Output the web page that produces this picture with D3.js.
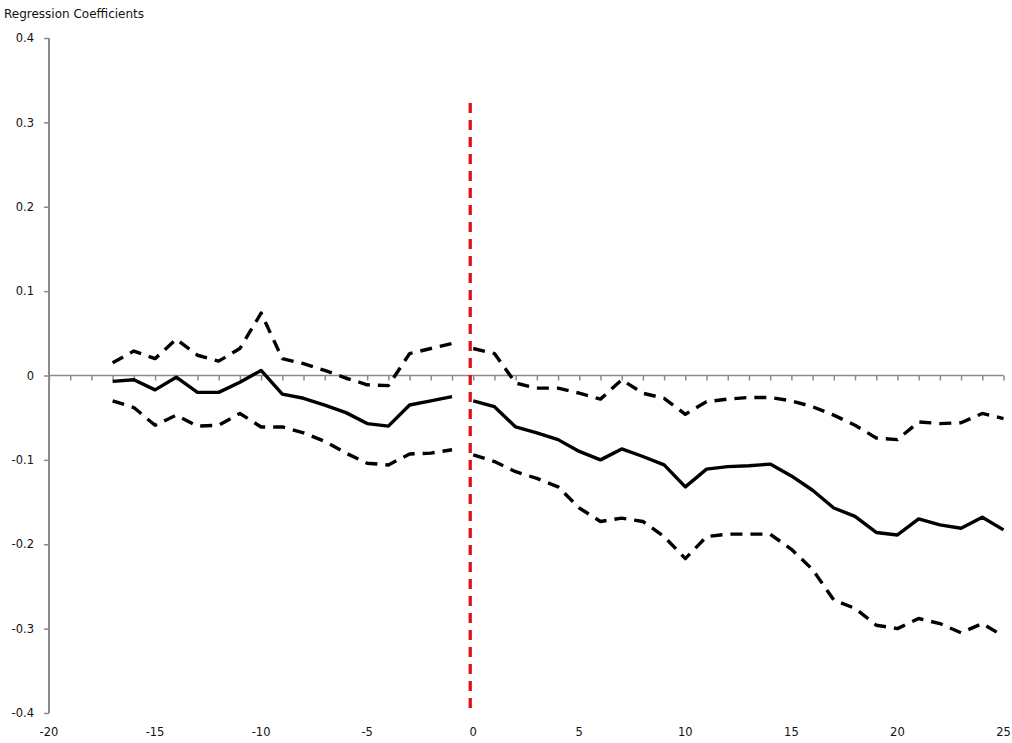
<!DOCTYPE html>
<html>
<head>
<meta charset="utf-8">
<script src="https://cdn.jsdelivr.net/npm/d3@7/dist/d3.min.js"></script>
<style>
  html, body { margin: 0; padding: 0; background: #fff; }
  svg { display: block; }
  text { font-family: "DejaVu Sans", sans-serif; fill: #111; }
</style>
</head>
<body>
<svg id="chart" width="1012" height="743"></svg>
<script>
// ---- data ----
const eventTime = [-17,-16,-15,-14,-13,-12,-11,-10,-9,-8,-7,-6,-5,-4,-3,-2,-1,
                   0,1,2,3,4,5,6,7,8,9,10,11,12,13,14,15,16,17,18,19,20,21,22,23,24,25];
const coef = [-0.007,-0.005,-0.017,-0.002,-0.020,-0.020,-0.008,0.006,-0.022,-0.027,-0.035,-0.044,-0.057,-0.060,-0.035,-0.030,-0.025,
              -0.030,-0.037,-0.061,-0.068,-0.076,-0.090,-0.100,-0.087,-0.096,-0.106,-0.132,-0.111,-0.108,-0.107,-0.105,-0.119,-0.136,-0.157,-0.167,-0.186,-0.189,-0.170,-0.177,-0.181,-0.168,-0.183];
const upper = [0.015,0.029,0.020,0.043,0.024,0.017,0.032,0.074,0.020,0.014,0.006,-0.003,-0.011,-0.012,0.026,0.032,0.038,
               0.032,0.026,-0.009,-0.015,-0.015,-0.021,-0.028,-0.005,-0.021,-0.027,-0.046,-0.031,-0.028,-0.026,-0.026,-0.030,-0.037,-0.047,-0.059,-0.074,-0.076,-0.055,-0.057,-0.056,-0.045,-0.051];
const lower = [-0.030,-0.038,-0.059,-0.047,-0.060,-0.059,-0.045,-0.061,-0.061,-0.068,-0.078,-0.092,-0.104,-0.106,-0.093,-0.092,-0.088,
               -0.094,-0.102,-0.114,-0.122,-0.132,-0.157,-0.173,-0.169,-0.173,-0.191,-0.217,-0.191,-0.188,-0.188,-0.188,-0.206,-0.230,-0.266,-0.276,-0.296,-0.300,-0.288,-0.294,-0.305,-0.294,-0.309];
const xTicks = [-20,-15,-10,-5,0,5,10,15,20,25];
const yTicks = [0.4,0.3,0.2,0.1,0,-0.1,-0.2,-0.3,-0.4];
const eventLineX = 0;
const eventLineTop = 0.323;
const yTitle = "Regression Coefficients";

// ---- layout ----
const svg = d3.select("#chart");
const x = d3.scaleLinear().domain([-20, 25]).range([49, 1003.5]);
const y = d3.scaleLinear().domain([-0.4, 0.4]).range([713, 38]);
const axisColor = "#8a8a8a";

// y axis
const yAxis = svg.append("g").attr("transform", `translate(${x(-20)},0)`)
  .call(d3.axisLeft(y).tickValues(yTicks).tickSize(5).tickPadding(10)
        .tickFormat(d => d === 0 ? "0" : d.toFixed(1)));
yAxis.select(".domain").attr("stroke", axisColor).attr("stroke-width", 2).attr("d", `M0,${y(0.4)}V${y(-0.4)}`);
yAxis.selectAll(".tick line").attr("stroke", axisColor).attr("stroke-width", 1.5);
yAxis.selectAll(".tick text").style("font-size", "11.5px").attr("fill", "#111");

// x axis at y = 0 (ticks every unit, labels at bottom)
const xAxis = svg.append("g").attr("transform", `translate(0,${y(0)})`)
  .call(d3.axisBottom(x).ticks(45).tickSize(5).tickFormat(""));
xAxis.select(".domain").attr("stroke", axisColor).attr("stroke-width", 1.5).attr("d", `M${x(-20)},0H${x(25)}`);
xAxis.selectAll(".tick line").attr("stroke", axisColor).attr("stroke-width", 1.5);

// x tick labels at the bottom
svg.append("g").selectAll("text").data(xTicks).join("text")
  .attr("x", d => x(d)).attr("y", 736)
  .attr("text-anchor", "middle")
  .style("font-size", "11.5px")
  .text(d => String(d));

// title
svg.append("text").attr("x", 4).attr("y", 18).style("font-size", "12px").text(yTitle);

// ---- series ----
const pts = (vals) => eventTime.map((t, i) => ({t, v: vals[i]}));
const line = d3.line().x(d => x(d.t)).y(d => y(d.v));
function drawSeries(vals, dashed) {
  const p = pts(vals);
  const segs = [p.filter(d => d.t < 0), p.filter(d => d.t >= 0)];
  segs.forEach(s => {
    svg.append("path").datum(s).attr("d", line)
      .attr("fill", "none").attr("stroke", "#000")
      .attr("stroke-width", 3.4)
      .attr("stroke-linejoin", "round")
      .attr("stroke-dasharray", dashed ? "12,8" : null);
  });
}
drawSeries(upper, true);
drawSeries(lower, true);
drawSeries(coef, false);

// event line
svg.append("line")
  .attr("x1", x(eventLineX) - 3).attr("x2", x(eventLineX) - 3)
  .attr("y1", y(eventLineTop)).attr("y2", y(-0.4))
  .attr("stroke", "#e0121c").attr("stroke-width", 3.3)
  .attr("stroke-dasharray", "10,7");
</script>
</body>
</html>
